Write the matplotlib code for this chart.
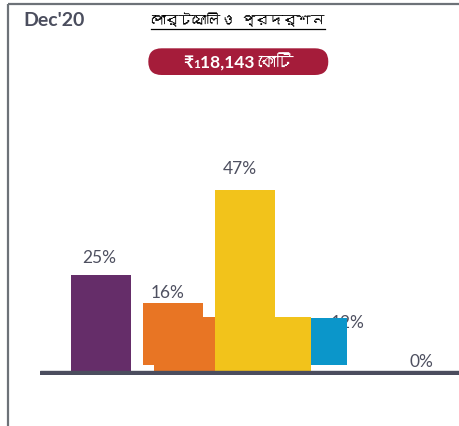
import matplotlib
matplotlib.use("Agg")
import matplotlib.pyplot as plt
from matplotlib import font_manager as fm
from matplotlib.ft2font import FT2Font
from matplotlib.patches import FancyBboxPatch

# data
period = "Dec'20"
title = "পোর্টফোলিও  প্রদর্শন"
total_prefix = "₹"
total_small = "1"
total_main = "18,143 কোটি"
values = [25, 16, 47, 12, 0]
colors = ["#652d69", "#e87524", "#f2c31b", "#0b96ca", "#652d69"]
backdrop_values = [14.1, 14.1]
backdrop_colors = ["#e87524", "#f2c31b"]

# layout (slot units, 1 slot = 72px)
bar_x = [0, 1, 2, 3.165]
bar_w = [0.833, 0.833, 0.833, 0.496]
bar_bottom = [0, 1.64, 0, 1.64]
backdrop_left = [0.736, 1.75]
backdrop_w = [1.014, 1.167]
label_x = [-0.03, 0.92, 1.93, 3.43, 4.454]
label_y = [28.2, 19.3, 51.4, 11.35, 1.4]

TXT = "#4e5060"
W, H = 460, 427


def find_bengali_font():
    for f in fm.fontManager.ttflist:
        try:
            if 0x09AA in FT2Font(f.fname).get_charmap():
                return f.name
        except Exception:
            pass
    return None


beng = find_bengali_font()
fams = ["Lato", "DejaVu Sans"]
if beng:
    fams.insert(1, beng)
plt.rcParams["font.family"] = fams

fig = plt.figure(figsize=(4.6, 4.27), dpi=100)

# header overlay in pixel coordinates (y down)
hx = fig.add_axes([0, 0, 1, 1], zorder=0)
hx.set_xlim(0, W)
hx.set_ylim(H, 0)
hx.axis("off")

hx.plot([8, 8], [5, H], color="#6d7278", lw=1.6, solid_capstyle="butt")
hx.plot([8, W], [5, 5], color="#6d7278", lw=1.6, solid_capstyle="butt")

hx.text(23, 21, period, fontsize=14, fontweight="bold", color="#4b4e5e",
        va="center", ha="left")

t = hx.text(238, 20, title, fontsize=10, color="black", ha="center", va="center")
fig.canvas.draw()
r = fig.canvas.get_renderer()
bb = t.get_window_extent(r).transformed(hx.transData.inverted())
hx.plot([bb.x0, bb.x1], [29.5, 29.5], color="black", lw=0.9)

pill = FancyBboxPatch((148.3, 49.3), 180, 26.7,
                      boxstyle="round,pad=0,rounding_size=13.3",
                      facecolor="#a51c3a", edgecolor="none")
hx.add_patch(pill)

# pill text, pieces placed side by side
pieces = [(total_prefix, 12.5), (total_small, 8.5), (total_main, 12.5)]
objs = []
for s, sz in pieces:
    objs.append(hx.text(0, 62.5, s, fontsize=sz, fontweight="bold", color="white", va="center"))
fig.canvas.draw()
widths = [o.get_window_extent(r).width for o in objs]
x = 238 - sum(widths) / 2
for o, w in zip(objs, widths):
    o.set_x(x)
    x += w
objs[1].set_y(64.5)

ax = fig.add_axes([40 / W, 1 - 376 / H, 420 / W, 226 / H], zorder=1)
ax.set_xlim((40 - 101) / 72, (460 - 101) / 72)
ax.set_ylim(-4 / 3.85, -4 / 3.85 + 226 / 3.85)
ax.axis("off")

for l, w, v, c in zip(backdrop_left, backdrop_w, backdrop_values, backdrop_colors):
    ax.bar(l, v, width=w, align="edge", color=c, zorder=2)
for i, (xx, w, b) in enumerate(zip(bar_x, bar_w, bar_bottom)):
    z = 4 if i == 3 else 2
    ax.bar(xx, values[i], width=w, bottom=b, color=colors[i], zorder=z)

for xx, yy, v in zip(label_x, label_y, values):
    ax.text(xx, yy, f"{v}%", fontsize=12.5, color=TXT, ha="center", va="baseline", zorder=3)

ax.axhspan(-4 / 3.85, 0, color="#4b4d5e", zorder=5)

fig.savefig("out.png", dpi=100)
